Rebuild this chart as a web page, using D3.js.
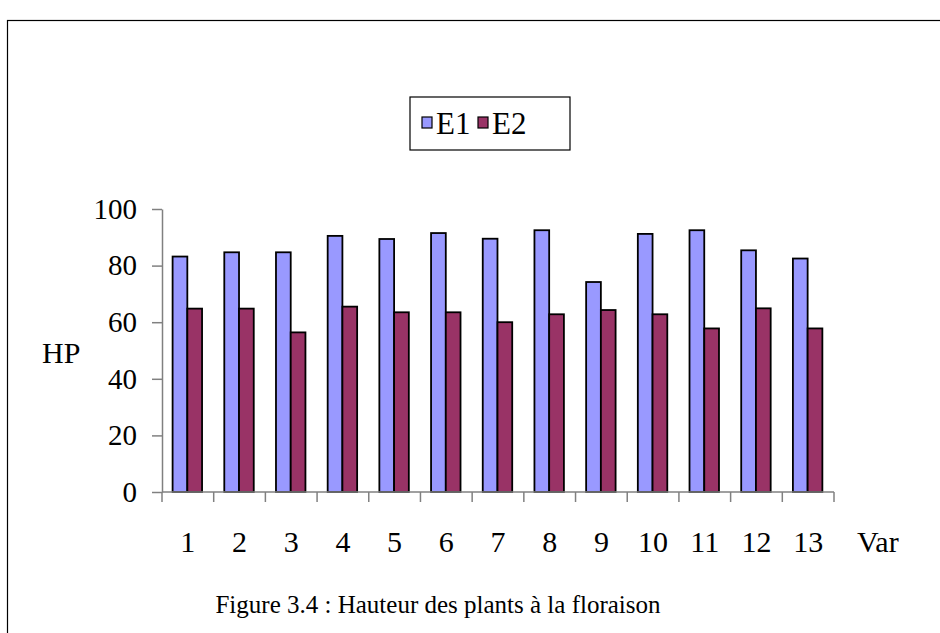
<!DOCTYPE html>
<html>
<head>
<meta charset="utf-8">
<script src="https://cdn.jsdelivr.net/npm/d3@7"></script>
<style>
  body { margin: 0; background: #fff; }
  svg text { font-family: "Liberation Serif", "Times New Roman", serif; fill: #000; }
</style>
</head>
<body>
<svg class="chart"></svg>
<script>
var categories = ["1","2","3","4","5","6","7","8","9","10","11","12","13"];
var series = ["E1", "E2"];
var e1 = [83.2, 84.7, 84.7, 90.5, 89.4, 91.5, 89.5, 92.5, 74.2, 91.2, 92.5, 85.4, 82.5];
var e2 = [64.8, 64.8, 56.4, 65.5, 63.5, 63.5, 60, 62.8, 64.3, 62.8, 57.8, 64.9, 57.8];
var yTicks = [0, 20, 40, 60, 80, 100];
var colors = {E1: "#9999ff", E2: "#993366"};

var width = 940, height = 633;
var fs = 30;
var serif = "Liberation Serif, Times New Roman, serif";

var svg = d3.select(".chart")
    .attr("width", width)
    .attr("height", height)
    .attr("font-family", serif);

// cadre
svg.append("rect")
    .attr("x", 7.5).attr("y", 20.5)
    .attr("width", width).attr("height", height)
    .attr("fill", "none")
    .attr("stroke", "#000")
    .attr("stroke-width", 1.2);

var x = d3.scaleBand()
    .domain(categories)
    .range([162, 834]);

var xs = d3.scaleBand()
    .domain(series)
    .range([x.bandwidth() * 0.205, x.bandwidth() * 0.775]);

var y = d3.scaleLinear()
    .domain([0, 100])
    .range([492, 209]);

var rows = categories.map(function(c, i) {
    return {cat: c, vals: [{s: "E1", v: e1[i]}, {s: "E2", v: e2[i]}]};
});

// barres
var g = svg.append("g");
g.selectAll("g.cat")
    .data(rows)
    .enter().append("g")
    .attr("class", "cat")
    .attr("transform", function(d) { return "translate(" + x(d.cat) + ",0)"; })
    .selectAll("rect")
    .data(function(d) { return d.vals; })
    .enter().append("rect")
    .attr("x", function(d) { return xs(d.s); })
    .attr("y", function(d) { return y(d.v); })
    .attr("width", xs.bandwidth())
    .attr("height", function(d) { return y(0) - y(d.v); })
    .attr("fill", function(d) { return colors[d.s]; })
    .attr("stroke", "#000")
    .attr("stroke-width", 1.8);

// axe Y
var yAxis = svg.append("g")
    .attr("transform", "translate(162,0)")
    .call(d3.axisLeft(y).tickValues(yTicks).tickSize(10).tickPadding(15).tickSizeOuter(0))
    .attr("font-family", serif)
    .attr("font-size", 29);
yAxis.selectAll("path, line").attr("stroke", "#808080").attr("stroke-width", 1.5);
yAxis.selectAll("text").attr("fill", "#000");

// axe X
var bounds = categories.map(function(c) { return x(c); }).concat([x.range()[1]]);
var xAxis = svg.append("g");
xAxis.append("line")
    .attr("x1", x.range()[0]).attr("x2", x.range()[1])
    .attr("y1", y(0)).attr("y2", y(0))
    .attr("stroke", "#808080").attr("stroke-width", 1.5);
xAxis.selectAll("line.tick")
    .data(bounds)
    .enter().append("line")
    .attr("class", "tick")
    .attr("x1", function(d) { return d; }).attr("x2", function(d) { return d; })
    .attr("y1", y(0)).attr("y2", y(0) + 10)
    .attr("stroke", "#808080").attr("stroke-width", 1.5);
xAxis.selectAll("text")
    .data(categories)
    .enter().append("text")
    .attr("x", function(d) { return x(d) + x.bandwidth() / 2; })
    .attr("y", 552)
    .attr("text-anchor", "middle")
    .style("font-size", fs + "px")
    .text(function(d) { return d; });

svg.append("text")
    .attr("x", 857).attr("y", 552)
    .style("font-size", fs + "px")
    .text("Var");

svg.append("text")
    .attr("x", 42).attr("y", 363)
    .style("font-size", fs + "px")
    .text("HP");

// légende
var leg = svg.append("g").attr("transform", "translate(410,97)");
leg.append("rect")
    .attr("width", 160).attr("height", 53)
    .attr("fill", "#fff")
    .attr("stroke", "#000").attr("stroke-width", 1.2);
var li = leg.selectAll("g.item")
    .data(series)
    .enter().append("g")
    .attr("class", "item")
    .attr("transform", function(d, i) { return "translate(" + (12 + i * 56) + ",0)"; });
li.append("rect")
    .attr("y", 20).attr("width", 10).attr("height", 11)
    .attr("fill", function(d) { return colors[d]; })
    .attr("stroke", "#000").attr("stroke-width", 1.2);
li.append("text")
    .attr("x", 14).attr("y", 37)
    .style("font-size", "31px")
    .text(function(d) { return d; });

// légende de la figure
svg.append("text")
    .attr("x", 438).attr("y", 613)
    .attr("text-anchor", "middle")
    .style("font-size", "25px")
    .text("Figure 3.4 : Hauteur des plants à la floraison");
</script>
</body>
</html>
